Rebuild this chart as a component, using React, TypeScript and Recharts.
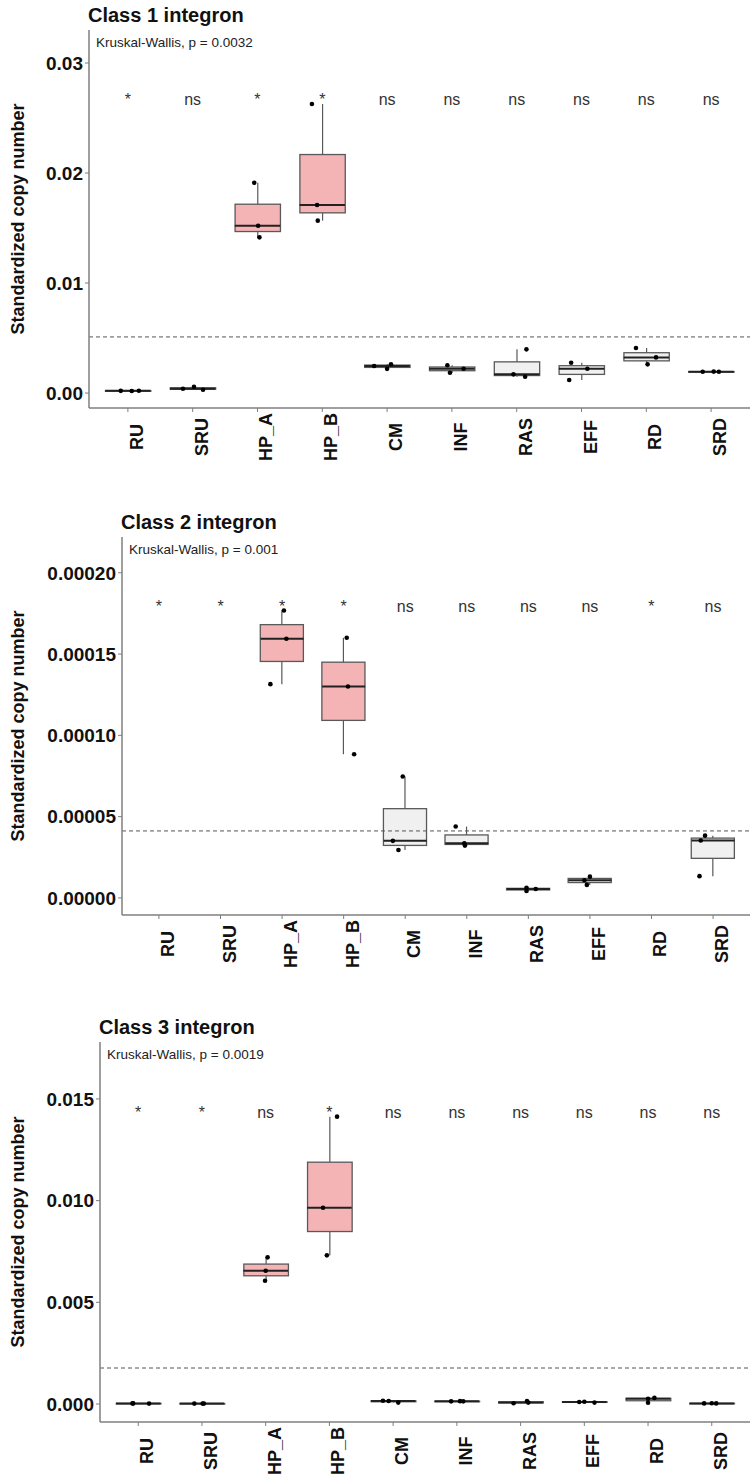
import React from "react";
import {
  ComposedChart,
  Bar,
  Scatter,
  XAxis,
  YAxis,
  ReferenceLine,
} from "recharts";

const FONT = "'Liberation Sans', Arial, sans-serif";
const PINK = "#F4B3B5";
const GREY = "#F0F0F0";

const groups = ["RU", "SRU", "HP_A", "HP_B", "CM", "INF", "RAS", "EFF", "RD", "SRD"];
const pinkGroups = ["HP_A", "HP_B"];

// Class 1 integron: three samples per group
const class1Values = [
  [0.0002, 0.00019, 0.00021],
  [0.00039, 0.00057, 0.0003],
  [0.01912, 0.01521, 0.01415],
  [0.02627, 0.01709, 0.01567],
  [0.00246, 0.0022, 0.00262],
  [0.00252, 0.00185, 0.00221],
  [0.00397, 0.0017, 0.00148],
  [0.00276, 0.00221, 0.00118],
  [0.00409, 0.00324, 0.00261],
  [0.00193, 0.00195, 0.00194],
];
const class1Jitter = [
  [-0.11, 0.06, 0.17],
  [-0.15, 0.02, 0.16],
  [-0.05, 0.01, 0.03],
  [-0.16, -0.08, -0.07],
  [-0.2, 0.0, 0.06],
  [-0.07, -0.03, 0.18],
  [0.15, -0.05, 0.13],
  [-0.16, 0.09, -0.19],
  [-0.16, 0.15, 0.02],
  [-0.13, 0.04, 0.12],
];
const class1Sig = ["*", "ns", "*", "*", "ns", "ns", "ns", "ns", "ns", "ns"];
const class1Ticks = [0, 0.01, 0.02, 0.03];
const class1Domain = [-0.00136, 0.033];
const class1Cutoff = 0.0051;
const class1SigY = 0.0262;
const class1P = "Kruskal-Wallis, p = 0.0032";

// Class 2 integron (RU, SRU, RD not detected)
const class2Values = [
  [],
  [],
  [0.0001768, 0.0001594, 0.0001315],
  [0.00016, 0.00013, 0.0000884],
  [0.0000351, 0.0000295, 0.0000747],
  [0.0000439, 0.0000336, 0.0000322],
  [0.0000063, 0.0000043, 0.0000055],
  [0.0000131, 0.0000109, 0.000008],
  [],
  [0.0000383, 0.0000353, 0.0000134],
];
const class2Jitter = [
  [],
  [],
  [0.03, 0.07, -0.19],
  [0.05, 0.07, 0.17],
  [-0.2, -0.11, -0.04],
  [-0.18, -0.04, -0.03],
  [-0.03, -0.03, 0.12],
  [0.0, -0.09, -0.05],
  [],
  [-0.13, -0.2, -0.22],
];
const class2Sig = ["*", "*", "*", "*", "ns", "ns", "ns", "ns", "*", "ns"];
const class2Ticks = [0, 0.00005, 0.0001, 0.00015, 0.0002];
const class2Domain = [-0.0000105, 0.000222];
const class2Cutoff = 0.0000412;
const class2SigY = 0.000176;
const class2P = "Kruskal-Wallis, p = 0.001";

// Class 3 integron
const class3Values = [
  [0.00003, 0.00003, 0.00002],
  [0.00002, 0.00002, 0.00002],
  [0.00721, 0.00655, 0.00606],
  [0.01413, 0.00965, 0.00731],
  [0.00016, 0.00015, 0.00007],
  [0.00013, 0.00013, 0.00014],
  [0.00004, 0.00015, 0.00007],
  [0.0001, 0.00011, 0.00007],
  [0.00026, 0.00006, 0.0003],
  [0.00003, 0.00004, 0.00003],
];
const class3Jitter = [
  [-0.09, -0.08, 0.17],
  [-0.12, 0.01, 0.03],
  [0.03, 0.0, -0.01],
  [0.12, -0.1, -0.04],
  [-0.16, -0.07, 0.08],
  [-0.09, 0.1, 0.05],
  [-0.11, 0.1, 0.12],
  [-0.08, 0.0, 0.16],
  [0.0, 0.0, 0.1],
  [-0.12, 0.0, 0.07],
];
const class3Sig = ["*", "*", "ns", "*", "ns", "ns", "ns", "ns", "ns", "ns"];
const class3Ticks = [0, 0.005, 0.01, 0.015];
const class3Domain = [-0.000885, 0.0178];
const class3Cutoff = 0.00177;
const class3SigY = 0.01408;
const class3P = "Kruskal-Wallis, p = 0.0019";

const panels = [
  {
    title: "Class 1 integron",
    values: class1Values,
    jitter: class1Jitter,
    sig: class1Sig,
    ticks: class1Ticks,
    domain: class1Domain,
    cutoff: class1Cutoff,
    sigY: class1SigY,
    pText: class1P,
    digits: 2,
    top: 0,
    height: 480,
    plotTop: 30,
    plotBottom: 408,
    left: 89,
  },
  {
    title: "Class 2 integron",
    values: class2Values,
    jitter: class2Jitter,
    sig: class2Sig,
    ticks: class2Ticks,
    domain: class2Domain,
    cutoff: class2Cutoff,
    sigY: class2SigY,
    pText: class2P,
    digits: 5,
    top: 490,
    height: 490,
    plotTop: 537,
    plotBottom: 915,
    left: 122,
  },
  {
    title: "Class 3 integron",
    values: class3Values,
    jitter: class3Jitter,
    sig: class3Sig,
    ticks: class3Ticks,
    domain: class3Domain,
    cutoff: class3Cutoff,
    sigY: class3SigY,
    pText: class3P,
    digits: 3,
    top: 980,
    height: 500,
    plotTop: 1042,
    plotBottom: 1422,
    left: 100,
  },
];

// type 7 quantile, same as R's default
function quantile(sorted: number[], p: number) {
  const h = (sorted.length - 1) * p;
  const lo = Math.floor(h);
  const hi = Math.ceil(h);
  return sorted[lo] + (h - lo) * (sorted[hi] - sorted[lo]);
}

const XTick = (props: any) => {
  const { x, y, payload } = props;
  const bx = x + 15;
  const by = y + 23;
  return (
    <text
      x={bx}
      y={by}
      transform={`rotate(-90 ${bx} ${by})`}
      textAnchor="middle"
      fontFamily={FONT}
      fontSize={18}
      fontWeight={700}
      fill="#111"
    >
      {payload.value}
    </text>
  );
};

const BoxShape = (props: any) => {
  const { x, y, width, height, payload } = props;
  if (x == null || y == null) return null;
  const top = Math.min(y, y + height);
  const h = Math.abs(height);
  return (
    <rect
      x={x}
      y={top}
      width={width}
      height={Math.max(h, 0.5)}
      fill={payload.fill}
      stroke="#595959"
      strokeWidth={1.3}
    />
  );
};

const WhiskerShape = (props: any) => {
  const { x, y, width, height } = props;
  if (x == null || y == null) return null;
  const cx = x + width / 2;
  return (
    <line x1={cx} x2={cx} y1={y} y2={y + height} stroke="#595959" strokeWidth={1.2} />
  );
};

const medianShape = (half: number) => (props: any) => {
  const { cx, cy } = props;
  return (
    <line x1={cx - half} x2={cx + half} y1={cy} y2={cy} stroke="#222" strokeWidth={2} />
  );
};

const DotShape = (props: any) => (
  <circle cx={props.cx} cy={props.cy} r={2.3} fill="#000" />
);

const SigShape = (props: any) => (
  <text
    x={props.cx}
    y={props.cy}
    textAnchor="middle"
    fontFamily={FONT}
    fontSize={16}
    fill="#333"
  >
    {props.payload.label}
  </text>
);

function Panel({ cfg }: { cfg: any }) {
  const plotW = 750 - cfg.left;
  const unit = plotW / 10.2;
  const pad = unit * 0.1;
  const boxW = unit * 0.7;

  const rows = groups.map((name, i) => {
    const vals: number[] = cfg.values[i];
    if (!vals.length) return { name, box: null, whisker: null, fill: GREY };
    const s = [...vals].sort((a, b) => a - b);
    return {
      name,
      box: [quantile(s, 0.25), quantile(s, 0.75)],
      whisker: [s[0], s[s.length - 1]],
      fill: pinkGroups.includes(name) ? PINK : GREY,
    };
  });

  const medians = groups.flatMap((name, i) => {
    const vals: number[] = cfg.values[i];
    if (!vals.length) return [];
    const s = [...vals].sort((a, b) => a - b);
    return [{ x: i + 1, y: quantile(s, 0.5) }];
  });

  const points = groups.flatMap((name, i) =>
    (cfg.values[i] as number[]).map((v, j) => ({
      x: i + 1 + cfg.jitter[i][j],
      y: v,
    }))
  );

  const sigs = groups.map((name, i) => ({ x: i + 1, y: cfg.sigY, label: cfg.sig[i] }));

  const axisStyle = { stroke: "#7f7f7f", strokeWidth: 1.5 };

  return (
    <div style={{ position: "absolute", left: 0, top: cfg.top }}>
      <ComposedChart
        width={750}
        height={cfg.height}
        data={rows}
        margin={{ top: cfg.plotTop - cfg.top, right: 0, bottom: 0, left: 0 }}
      >
        <XAxis
          xAxisId="cat"
          dataKey="name"
          type="category"
          padding={{ left: pad, right: pad }}
          height={cfg.top + cfg.height - cfg.plotBottom}
          interval={0}
          tick={XTick}
          tickSize={4}
          axisLine={axisStyle}
          tickLine={{ stroke: "#7f7f7f" }}
        />
        <XAxis
          xAxisId="whisk"
          dataKey="name"
          type="category"
          padding={{ left: pad, right: pad }}
          hide
        />
        <XAxis
          xAxisId="num"
          dataKey="x"
          type="number"
          domain={[0.4, 10.6]}
          allowDataOverflow
          hide
        />
        <YAxis
          dataKey="y"
          type="number"
          domain={cfg.domain}
          allowDataOverflow
          ticks={cfg.ticks}
          interval={0}
          width={cfg.left}
          tickSize={4}
          tickFormatter={(v: number) => v.toFixed(cfg.digits)}
          tick={{ fontFamily: FONT, fontSize: 19, fontWeight: 700, fill: "#111" }}
          axisLine={axisStyle}
          tickLine={{ stroke: "#7f7f7f" }}
        />
        <ReferenceLine
          xAxisId="cat"
          y={cfg.cutoff}
          stroke="#555"
          strokeDasharray="4 3"
          strokeWidth={1}
        />
        <Bar
          xAxisId="whisk"
          dataKey="whisker"
          barSize={boxW}
          shape={WhiskerShape}
          isAnimationActive={false}
        />
        <Bar
          xAxisId="cat"
          dataKey="box"
          barSize={boxW}
          shape={BoxShape}
          isAnimationActive={false}
        />
        <Scatter
          xAxisId="num"
          data={medians}
          dataKey="y"
          shape={medianShape(boxW / 2)}
          isAnimationActive={false}
        />
        <Scatter
          xAxisId="num"
          data={points}
          dataKey="y"
          shape={DotShape}
          isAnimationActive={false}
        />
        <Scatter
          xAxisId="num"
          data={sigs}
          dataKey="y"
          shape={SigShape}
          isAnimationActive={false}
        />
      </ComposedChart>
    </div>
  );
}

export default function App() {
  return (
    <div
      style={{
        position: "absolute",
        left: 0,
        top: 0,
        width: 750,
        height: 1480,
        background: "#fff",
      }}
    >
      {panels.map((cfg) => (
        <Panel key={cfg.title} cfg={cfg} />
      ))}
      <svg
        width={750}
        height={1480}
        style={{ position: "absolute", left: 0, top: 0, pointerEvents: "none" }}
      >
        {panels.map((cfg) => {
          const midY = (cfg.plotTop + cfg.plotBottom) / 2;
          return (
            <g key={cfg.title} fontFamily={FONT}>
              <text
                x={cfg.left - 1}
                y={cfg.plotTop - 8}
                fontSize={20}
                fontWeight={700}
                fill="#111"
              >
                {cfg.title}
              </text>
              <text x={cfg.left + 7} y={cfg.plotTop + 17} fontSize={13.5} fill="#222">
                {cfg.pText}
              </text>
              <text
                x={24}
                y={midY}
                transform={`rotate(-90 24 ${midY})`}
                textAnchor="middle"
                fontSize={18}
                fontWeight={700}
                fill="#111"
              >
                Standardized copy number
              </text>
            </g>
          );
        })}
      </svg>
    </div>
  );
}
